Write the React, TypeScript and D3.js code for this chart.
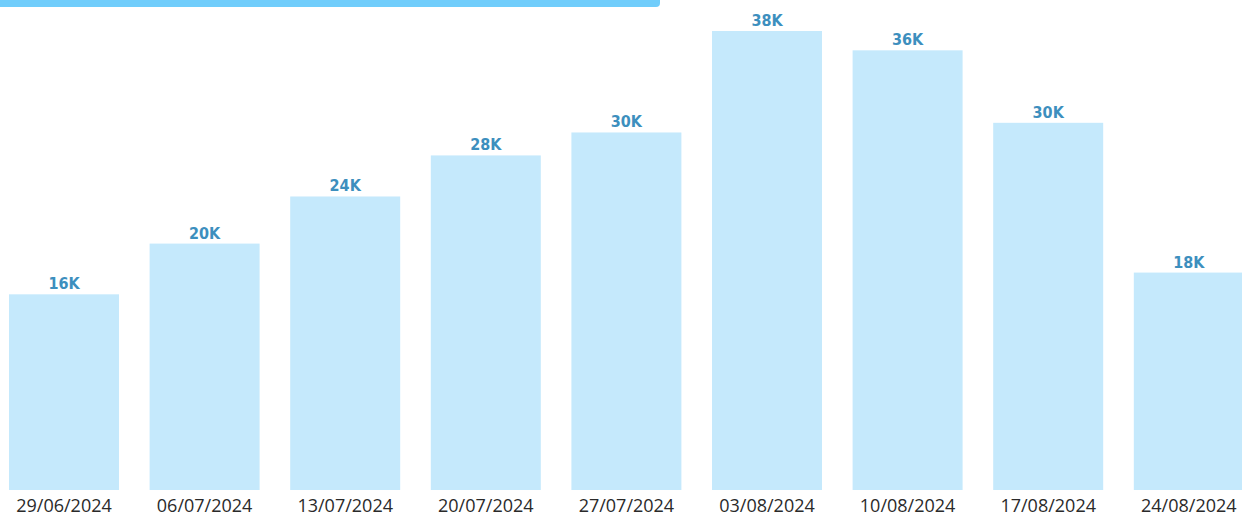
import React from "react";
import * as d3 from "d3";

const categories = ["29/06/2024", "06/07/2024", "13/07/2024", "20/07/2024", "27/07/2024", "03/08/2024", "10/08/2024", "17/08/2024", "24/08/2024"];
const values = [16200, 20400, 24300, 27700, 29600, 38000, 36400, 30400, 18000];
const labels = ["16K", "20K", "24K", "28K", "30K", "38K", "36K", "30K", "18K"];

const W = 1242;
const H = 517;

export default function App() {
  const step = 140.6;
  const barW = 110;
  const x = d3
    .scaleBand<string>()
    .domain(categories)
    .range([9, 9 + step * categories.length])
    .paddingInner((step - barW) / step)
    .paddingOuter(0)
    .align(0);
  const y = d3.scaleLinear().domain([0, 38000]).range([490, 31]);
  return (
    <div style={{ position: "absolute", left: 0, top: 0, width: W, height: H, background: "#fff" }}>
      <svg width={W} height={H} style={{ display: "block" }}>
        <path d={`M0,0 H660 V3 Q660,7 656,7 H0 Z`} fill="#70cdfb" />
        {values.map((v, i) => {
          const left = 9 + step * i;
          const bw = barW;
          const cx = left + bw / 2;
          void x;
          return (
            <g key={i}>
              <rect x={left} y={y(v)} width={bw} height={y(0) - y(v)} fill="#c5e9fc" />
              <text
                x={cx}
                y={y(v) - 5}
                textAnchor="middle"
                fontFamily="'DejaVu Sans Condensed', 'DejaVu Sans', sans-serif"
                fontWeight="bold"
                fontSize={16}
                fill="#3d8fbe"
              >
                {labels[i]}
              </text>
              <text
                x={cx}
                y={512}
                textAnchor="middle"
                fontFamily="'Open Sans', 'Noto Sans', sans-serif"
                fontSize={18}
                fill="#2a2a2a"
              >
                {categories[i]}
              </text>
            </g>
          );
        })}
      </svg>
    </div>
  );
}
